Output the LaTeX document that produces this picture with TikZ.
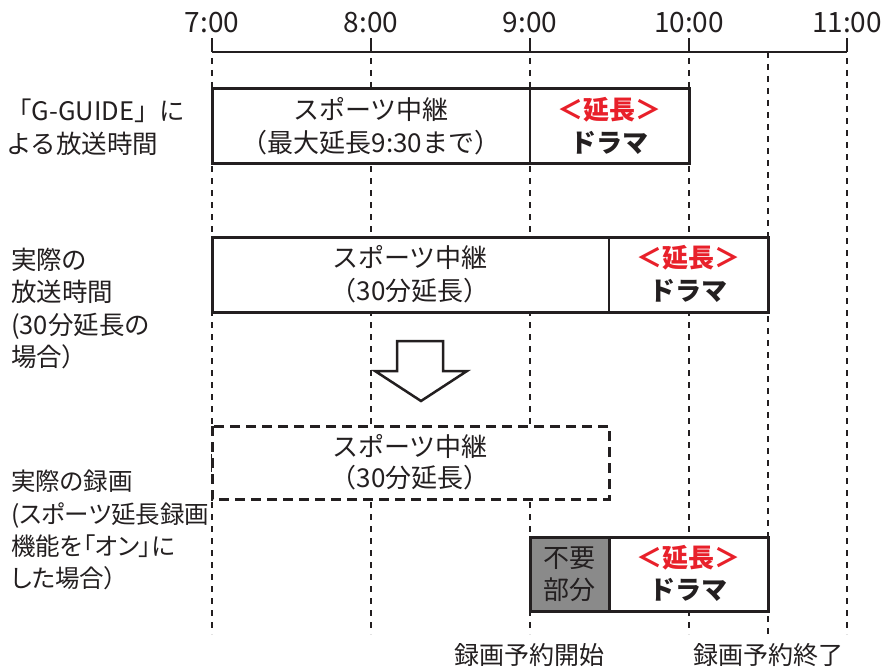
\documentclass[tikz,border=0pt]{standalone}
\usepackage{fontspec}
\setmainfont{Noto Sans CJK JP}
\newfontfamily\lblfont[RawFeature=+palt]{Noto Sans CJK JP}
\definecolor{ink}{HTML}{231F20}
\definecolor{jred}{HTML}{E8202A}
\definecolor{shade}{HTML}{8A8A8A}
\begin{document}
\begin{tikzpicture}[x=1pt,y=-1pt,
  every node/.style={text=ink, font=\fontsize{26}{32.5}\selectfont, inner sep=0pt},
  grid/.style={draw=ink, line width=1.2pt, dash pattern=on 6pt off 6pt},
  axis/.style={draw=ink, line width=1.3pt},
  frame/.style={draw=ink, line width=3pt},
  divider/.style={draw=ink, line width=2pt},
  dframe/.style={draw=ink, line width=3pt, dash pattern=on 10pt off 6pt},
  lbl/.style={anchor=north west, align=left, font=\lblfont\fontsize{25.5}{32.3}\selectfont},
  inbox/.style={align=center},
  red/.style={text=jred, font=\fontsize{26}{32}\selectfont\bfseries},
  bold/.style={font=\fontsize{26}{32}\selectfont\bfseries}
]
\useasboundingbox (0,0) rectangle (882,666);

% time axis
\coordinate (t7) at (212,52);
\coordinate (t8) at (371,52);
\coordinate (t9) at (530,52);
\coordinate (t10) at (689,52);
\coordinate (t1030) at (768,52);
\coordinate (t11) at (847,52);
\draw[axis] (t7) -- (t11);
\foreach \c/\t in {t7/7:00, t8/8:00, t9/9:00, t10/10:00, t11/11:00}{
  \draw[axis] (\c) -- ++(0,-14);
  \node[font=\fontsize{28}{30}\selectfont] (l\c) at ([yshift=29pt]\c) {\t};
}
% dashed guide lines
\foreach \c in {t7,t8,t9,t10,t11}{
  \coordinate (e\c) at ([yshift=-582pt]\c);
  \draw[grid] ([yshift=-6pt]\c) -- (e\c);
}
\coordinate (et1030) at ([yshift=-582pt]t1030);
\draw[grid] (t1030) -- (et1030);

% row 1
\draw[frame, fill=white] (212,89) rectangle (689,163);
\draw[divider] (530,89) -- (530,163);
\node[inbox] (r1a) at (371,110) {スポーツ中継};
\node[inbox] (r1b) at (371,143) {（最大延長9:30まで）};
\node[red] (r1c) at (609.5,110) {＜延長＞};
\node[bold] (r1d) at (609.5,143) {ドラマ};

% row 2
\draw[frame, fill=white] (212,237) rectangle (768,312);
\draw[divider] (609,237) -- (609,312);
\node[inbox] (r2a) at (410,258) {スポーツ中継};
\node[inbox] (r2b) at (410,291) {（30分延長）};
\node[red] (r2c) at (688.5,258) {＜延長＞};
\node[bold] (r2d) at (688.5,291) {ドラマ};

% arrow
\draw[line width=2.5pt, draw=ink, fill=white, line join=miter]
  (397,341) -- (443,341) -- (443,371) -- (467,371) -- (421,401) -- (375,371) -- (397,371) -- cycle;

% row 3
\draw[dframe, fill=white] (212,426) rectangle (609,499);
\node[inbox] (r3a) at (410,446) {スポーツ中継};
\node[inbox] (r3b) at (410,478) {（30分延長）};

% row 4
\draw[frame, fill=shade] (530,537) rectangle (609,611);
\draw[frame, fill=white] (609,537) rectangle (768,611);
\node[inbox] (r4a) at (569.5,558) {不要};
\node[inbox] (r4b) at (569.5,590) {部分};
\node[red] (r4c) at (688.5,558) {＜延長＞};
\node[bold] (r4d) at (688.5,590) {ドラマ};

% left labels
\node[lbl, font=\fontsize{25.5}{33}\selectfont] (L1) at (6,99) {「G-GUIDE」に\\ よる放送時間};
\node[lbl] (L2) at (11,248) {実際の\\放送時間\\(30分延長の\\場合）};
\node[lbl, font=\lblfont\fontsize{24.5}{32.3}\selectfont] (L3) at (11,470) {実際の録画\\(スポーツ延長録画\\機能を「オン」に\\した場合）};

% bottom labels
\node[font=\fontsize{25}{30}\selectfont] (B1) at (529,655) {録画予約開始};
\node[font=\fontsize{25}{30}\selectfont] (B2) at (768,655) {録画予約終了};
\end{tikzpicture}
\end{document}
